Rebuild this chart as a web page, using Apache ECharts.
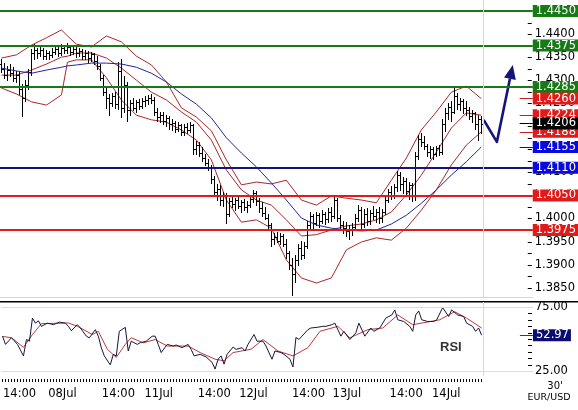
<!DOCTYPE html>
<html><head><meta charset="utf-8">
<script src="https://cdn.jsdelivr.net/npm/echarts@6/dist/echarts.min.js"></script>
<style>html,body{margin:0;padding:0;background:#fff}#c{width:578px;height:410px}</style>
</head><body><div id="c"></div>
<script>
// ---- OHLC bars (30 minute, EUR/USD) ----
const opens=[1.4335,1.4325,1.4312,1.4322,1.4316,1.4305,1.4312,1.4280,1.4262,1.4290,
1.4318,1.4360,1.4365,1.4358,1.4366,1.4352,1.4360,1.4355,1.4362,1.4368,
1.4360,1.4370,1.4365,1.4372,1.4362,1.4368,1.4358,1.4364,1.4352,1.4360,
1.4348,1.4356,1.4342,1.4330,1.4305,1.4275,1.4262,1.4250,1.4265,1.4248,
1.4320,1.4240,1.4290,1.4235,1.4250,1.4240,1.4252,1.4245,1.4255,1.4258,
1.4262,1.4258,1.4232,1.4220,1.4225,1.4212,1.4218,1.4205,1.4208,1.4195,
1.4202,1.4188,1.4198,1.4192,1.4202,1.4150,1.4160,1.4142,1.4132,1.4120,
1.4110,1.4085,1.4058,1.4065,1.4040,1.4050,1.4010,1.4038,1.4032,1.4040,
1.4028,1.4035,1.4025,1.4030,1.4042,1.4055,1.4038,1.4022,1.4012,1.4002,
1.3985,1.3955,1.3960,1.3952,1.3962,1.3945,1.3925,1.3900,1.3880,1.3910,
1.3935,1.3920,1.3940,1.3985,1.4005,1.3990,1.4008,1.3995,1.4010,1.3998,
1.4015,1.4005,1.4040,1.4002,1.3985,1.3980,1.3972,1.3978,1.3982,1.4002,
1.4018,1.3988,1.4010,1.3995,1.4012,1.4005,1.4015,1.4000,1.4015,1.4040,
1.4058,1.4050,1.4068,1.4095,1.4075,1.4082,1.4060,1.4072,1.4048,1.4135,
1.4172,1.4165,1.4158,1.4145,1.4150,1.4140,1.4152,1.4145,1.4205,1.4228,
1.4242,1.4232,1.4265,1.4248,1.4255,1.4240,1.4235,1.4222,1.4228,1.4205,
1.4215];
const highs=[1.4345,1.4338,1.4330,1.4335,1.4328,1.4320,1.4318,1.4292,1.4300,1.4325,
1.4368,1.4378,1.4370,1.4372,1.4370,1.4366,1.4364,1.4370,1.4376,1.4372,
1.4378,1.4376,1.4380,1.4375,1.4374,1.4372,1.4370,1.4368,1.4366,1.4364,
1.4362,1.4360,1.4352,1.4335,1.4312,1.4285,1.4270,1.4272,1.4275,1.4340,
1.4345,1.4310,1.4295,1.4258,1.4262,1.4258,1.4260,1.4262,1.4266,1.4268,
1.4270,1.4264,1.4240,1.4232,1.4230,1.4225,1.4222,1.4215,1.4212,1.4210,
1.4206,1.4205,1.4208,1.4210,1.4206,1.4168,1.4165,1.4155,1.4140,1.4130,
1.4115,1.4092,1.4075,1.4072,1.4058,1.4055,1.4045,1.4050,1.4045,1.4048,
1.4040,1.4042,1.4038,1.4048,1.4062,1.4060,1.4045,1.4035,1.4025,1.4010,
1.3990,1.3968,1.3970,1.3968,1.3966,1.3955,1.3930,1.3915,1.3920,1.3945,
1.3952,1.3948,1.3995,1.4015,1.4010,1.4015,1.4012,1.4018,1.4015,1.4022,
1.4025,1.4052,1.4045,1.4008,1.3995,1.3992,1.3985,1.3990,1.4010,1.4030,
1.4025,1.4020,1.4022,1.4018,1.4028,1.4020,1.4025,1.4020,1.4048,1.4065,
1.4070,1.4075,1.4102,1.4100,1.4090,1.4088,1.4080,1.4078,1.4145,1.4182,
1.4185,1.4178,1.4162,1.4158,1.4155,1.4158,1.4160,1.4215,1.4240,1.4250,
1.4255,1.4288,1.4272,1.4262,1.4260,1.4255,1.4242,1.4235,1.4232,1.4225,
1.4222];
const lows=[1.4318,1.4305,1.4300,1.4310,1.4298,1.4295,1.4270,1.4222,1.4255,1.4280,
1.4312,1.4345,1.4348,1.4352,1.4345,1.4346,1.4345,1.4350,1.4356,1.4352,
1.4355,1.4358,1.4360,1.4355,1.4356,1.4350,1.4352,1.4345,1.4346,1.4340,
1.4342,1.4335,1.4325,1.4300,1.4268,1.4240,1.4225,1.4245,1.4240,1.4238,
1.4220,1.4230,1.4212,1.4225,1.4235,1.4232,1.4238,1.4240,1.4245,1.4248,
1.4250,1.4225,1.4212,1.4210,1.4205,1.4200,1.4195,1.4192,1.4188,1.4190,
1.4180,1.4182,1.4185,1.4188,1.4140,1.4140,1.4135,1.4125,1.4115,1.4105,
1.4078,1.4048,1.4040,1.4030,1.4028,1.3990,1.4005,1.4025,1.4018,1.4022,
1.4015,1.4018,1.4015,1.4025,1.4035,1.4030,1.4015,1.4005,1.3998,1.3975,
1.3940,1.3945,1.3948,1.3945,1.3940,1.3915,1.3890,1.3835,1.3862,1.3900,
1.3912,1.3915,1.3935,1.3975,1.3980,1.3985,1.3982,1.3990,1.3988,1.3992,
1.3995,1.4000,1.3995,1.3975,1.3968,1.3962,1.3955,1.3965,1.3975,1.3995,
1.3975,1.3982,1.3985,1.3988,1.3998,1.3992,1.3990,1.3992,1.4010,1.4035,
1.4042,1.4045,1.4060,1.4062,1.4055,1.4050,1.4042,1.4038,1.4040,1.4128,
1.4158,1.4150,1.4135,1.4132,1.4130,1.4135,1.4138,1.4140,1.4190,1.4215,
1.4212,1.4228,1.4238,1.4235,1.4228,1.4225,1.4215,1.4210,1.4195,1.4170,
1.4185];
const closes=[1.4325,1.4312,1.4322,1.4316,1.4305,1.4312,1.4280,1.4262,1.4290,1.4318,
1.4360,1.4365,1.4358,1.4366,1.4352,1.4360,1.4355,1.4362,1.4368,1.4360,
1.4370,1.4365,1.4372,1.4362,1.4368,1.4358,1.4364,1.4352,1.4360,1.4348,
1.4356,1.4342,1.4330,1.4305,1.4275,1.4262,1.4250,1.4265,1.4248,1.4320,
1.4240,1.4290,1.4235,1.4250,1.4240,1.4252,1.4245,1.4255,1.4258,1.4262,
1.4258,1.4232,1.4220,1.4225,1.4212,1.4218,1.4205,1.4208,1.4195,1.4202,
1.4188,1.4198,1.4192,1.4202,1.4150,1.4160,1.4142,1.4132,1.4120,1.4110,
1.4085,1.4058,1.4065,1.4040,1.4050,1.4010,1.4038,1.4032,1.4040,1.4028,
1.4035,1.4025,1.4030,1.4042,1.4055,1.4038,1.4022,1.4012,1.4002,1.3985,
1.3955,1.3960,1.3952,1.3962,1.3945,1.3925,1.3900,1.3880,1.3910,1.3935,
1.3920,1.3940,1.3985,1.4005,1.3990,1.4008,1.3995,1.4010,1.3998,1.4015,
1.4005,1.4040,1.4002,1.3985,1.3980,1.3972,1.3978,1.3982,1.4002,1.4018,
1.3988,1.4010,1.3995,1.4012,1.4005,1.4015,1.4000,1.4015,1.4040,1.4058,
1.4050,1.4068,1.4095,1.4075,1.4082,1.4060,1.4072,1.4048,1.4135,1.4172,
1.4165,1.4158,1.4145,1.4150,1.4140,1.4152,1.4145,1.4205,1.4228,1.4242,
1.4232,1.4265,1.4248,1.4255,1.4240,1.4235,1.4222,1.4228,1.4205,1.4215,
1.4206];

// ---- indicator lines, read at these bar positions ----
const bandIdx=[0,5,10,15,20,22,25,30,35,40,45,50,55,60,65,70,75,80,85,90,95,100,105,110,115,120,125,130,135,140,145,150,155,160];
const bbUpper=[1.4348,1.4355,1.4376,1.4392,1.4409,1.4396,1.4378,1.4372,1.4396,1.4383,1.4352,1.4333,1.4296,1.4240,1.4220,1.4190,1.4127,1.4073,1.4079,1.4075,1.4083,1.4040,1.4029,1.4049,1.4044,1.4040,1.4034,1.4083,1.4131,1.4192,1.4231,1.4274,1.4287,1.4260];
const bbMiddle=[1.4311,1.4311,1.4322,1.4335,1.4350,1.4352,1.4359,1.4359,1.4348,1.4326,1.4300,1.4274,1.4257,1.4231,1.4209,1.4170,1.4105,1.4062,1.4040,1.4029,1.3997,1.3962,1.3965,1.3975,1.3984,1.3988,1.3997,1.4014,1.4051,1.4094,1.4144,1.4196,1.4229,1.4224];
const bbLower=[1.4283,1.4270,1.4253,1.4246,1.4268,1.4339,1.4344,1.4344,1.4305,1.4257,1.4224,1.4214,1.4209,1.4192,1.4170,1.4127,1.4040,1.3992,1.3997,1.3979,1.3910,1.3871,1.3860,1.3871,1.3932,1.3949,1.3958,1.3953,1.3979,1.4018,1.4062,1.4116,1.4159,1.4188];
const maBlue=[1.4326,1.4320,1.4315,1.4322,1.4328,1.4331,1.4333,1.4337,1.4337,1.4335,1.4328,1.4315,1.4296,1.4270,1.4248,1.4218,1.4175,1.4142,1.4112,1.4077,1.4040,1.4001,1.3986,1.3979,1.3975,1.3973,1.3975,1.3988,1.4007,1.4033,1.4062,1.4094,1.4123,1.4155];

// ---- RSI panel ----
const rsiIdx=[0,1,3,5,7,8,9,10,11,12,13,15,17,19,21,22,23,25,26,28,29,31,32,33,34,36,37,38,39,41,42,43,45,46,48,50,51,52,53,55,57,58,60,62,63,64,66,68,70,71,72,73,74,75,77,78,80,81,82,84,85,87,88,90,91,93,94,96,97,98,99,100,102,103,105,107,108,110,111,113,114,116,118,119,121,123,124,126,128,130,131,132,134,136,137,138,139,140,142,144,145,147,149,150,152,154,155,157,158,159,160];
const rsiVals=[52.2,45.8,51,45.8,36.8,49.6,48.3,66.3,62.4,64.2,59.9,62.4,61.2,63.2,62.4,59.9,56.5,61.2,58.6,52.2,50.9,57.3,52.2,43.2,36.8,29.8,38,36.8,56,59.1,40.6,48.3,45.8,47.1,48.3,52.2,52.2,45.8,39.4,45.8,44.5,45.3,43.2,45.8,41.9,36.8,38,36,31.7,26.5,34.2,36.8,30.4,38,43.7,41.9,43.2,40.6,45.8,53.5,48.3,48.3,44.5,34.2,40.6,39.4,38,34.2,28.1,51.2,49.6,52.2,57.3,58.6,59.1,59.9,59.9,61.2,62.4,52.2,56,49.6,54.8,62.4,52.2,58.6,56,58.6,66.3,68.8,72.7,65,63.7,59.9,56,68.8,71.9,65,63.7,63.7,65,74.5,67.6,72.7,68.8,67.6,62.4,59.9,56,58.6,52.97];
const sigIdx=[0,3,7,10,13,22,25,30,32,35,38,41,43,47,51,55,62,66,71,74,77,83,87,92,97,102,106,112,116,122,127,132,137,143,146,151,155,160];
const sigVals=[52,51,43.5,53.5,62,62.5,60,53.5,56,42,35.6,45.8,51,47,49.6,44.5,44.5,39.4,34.2,33,39.4,42,49.6,40.6,36.8,43.2,56,59.9,50.9,57.3,58.6,68.8,61.2,63.7,65,71.3,66.3,58.6];

// ---- levels & annotations ----
const greenLevels=[1.4450,1.4375,1.4285];
const blueLevels=[1.4110];
const redLevels=[1.4050,1.3975];
const bandNow=[1.4260,1.4224,1.4188]; // upper, middle, lower
const maNow=1.4155;
const lastPrice=1.4206;
const rsiNow=52.97;
const rsiGuides=[75,25];
const arrowPts=[[160.8,1.4214],[165.2,1.4166],[170.5,1.4333]];

// ---- axis ticks ----
const priceLabels=[1.3850,1.3900,1.3950,1.4000,1.4050,1.4100,1.4150,1.4200,1.4250,1.4300,1.4350,1.4400,1.4450];
const priceTickMarks=[1.3850,1.3875,1.3900,1.3925,1.3950,1.3975,1.4000,1.4025,1.4050,1.4075,1.4100,1.4125,1.4150,1.4175,1.4200,1.4225,1.4250,1.4275,1.4300,1.4325,1.4350,1.4375,1.4400,1.4425,1.4450];
const rsiLabels=[75,25];
const rsiTickMarks=[25,30,35,40,45,50,55,60,65,70,75];
const timeTickIdx=[5.7,20,38.7,52.2,70.7,83.8,102.2,115,134.8,148.2];
const timeTickLabels=['14:00','08Jul','14:00','11Jul','14:00','12Jul','14:00','13Jul','14:00','14Jul'];

const FONT='DejaVu Sans';
const GREEN='#177a17', RED='#e01b1b', NAVY='#14147a', BLUE='#0a0ae0';
const barTicks=closes.map((c,i)=>i);
const X_MIN=-0.5, X_MAX=177.1667;

function pairs(xs,ys){return xs.map((x,k)=>[x,ys[k]]);}

function boxLabel(bg,txt){
  return {show:true,position:'end',distance:0,formatter:()=>txt,
    backgroundColor:bg,color:'#fff',fontFamily:FONT,fontSize:11.5,lineHeight:11,padding:[1,2,0,3]};
}
function fullLevel(v,color,bg){
  return {yAxis:v,lineStyle:{color:color,width:2,type:'solid'},label:boxLabel(bg,v.toFixed(4))};
}
function pointer(v,color,bg,txt){
  const lab=boxLabel(bg,txt||v.toFixed(4));
  const s={coord:[172.8,v],lineStyle:{color:color,width:1,type:'solid'},label:lab};
  const e={coord:[X_MAX,v],lineStyle:{color:color,width:1,type:'solid'},label:lab};
  return [s,e];
}

function renderOHLC(params,api){
  const i=api.value(0),o=api.value(1),h=api.value(2),l=api.value(3),c=api.value(4);
  const ph=api.coord([i,h]),pl=api.coord([i,l]),po=api.coord([i,o]),pc=api.coord([i,c]);
  const x=Math.round(ph[0]-0.5)+0.5;
  const yo=Math.round(po[1])+0.5, yc=Math.round(pc[1])+0.5;
  const st={stroke:'#000',lineWidth:1};
  return {type:'group',children:[
    {type:'line',shape:{x1:x,y1:Math.round(ph[1]),x2:x,y2:Math.round(pl[1])+1},style:st},
    {type:'line',shape:{x1:x-2,y1:yo,x2:x,y2:yo},style:st},
    {type:'line',shape:{x1:x,y1:yc,x2:x+2,y2:yc},style:st}
  ]};
}
// small dash tick at the right edge of a panel, placed through the axis scale
function renderTick(params,api){
  const p=api.coord([api.value(0),api.value(1)]);
  const y=Math.round(p[1])+0.5;
  return {type:'line',shape:{x1:p[0]-5,y1:y,x2:p[0]-1,y2:y},style:{stroke:'#000',lineWidth:1}};
}
function renderArrow(params,api){
  const pts=arrowPts.map(p=>api.coord(p));
  const n=pts.length,a=pts[n-2],b=pts[n-1];
  const dx=b[0]-a[0],dy=b[1]-a[1],len=Math.hypot(dx,dy),ux=dx/len,uy=dy/len;
  const hl=14,hw=6;
  const base=[b[0]-ux*hl,b[1]-uy*hl];
  return {type:'group',children:[
    {type:'polyline',shape:{points:pts.slice(0,n-1).concat([base])},style:{stroke:NAVY,lineWidth:2.6,fill:null,lineJoin:'round'}},
    {type:'polygon',shape:{points:[b,[base[0]-uy*hw,base[1]+ux*hw],[base[0]+uy*hw,base[1]-ux*hw]]},style:{fill:NAVY}}
  ]};
}

const levelData=[]
  .concat(greenLevels.map(v=>fullLevel(v,GREEN,GREEN)))
  .concat(blueLevels.map(v=>fullLevel(v,NAVY,BLUE)))
  .concat(redLevels.map(v=>fullLevel(v,RED,RED)))
  .concat([{xAxis:160.5,lineStyle:{color:'#d8d8d8',width:1,type:'solid'},label:{show:false}}])
  .concat([pointer(bandNow[0],'#c02020',RED),pointer(bandNow[1],'#c02020',RED),pointer(bandNow[2],'#c02020',RED),
           pointer(maNow,NAVY,BLUE),pointer(lastPrice,'#000','#000')]);

const chart=echarts.init(document.getElementById('c'),null,{renderer:'canvas'});
chart.setOption({
  animation:false,
  backgroundColor:'#fff',
  grid:[
    {left:0,right:45,top:0,height:297},
    {left:0,right:45,top:302,height:74}
  ],
  xAxis:[
    {gridIndex:0,type:'value',min:X_MIN,max:X_MAX,axisLine:{show:true,lineStyle:{color:'#d4d4d4'}},axisTick:{show:false},axisLabel:{show:false},splitLine:{show:false}},
    {gridIndex:1,type:'value',min:X_MIN,max:X_MAX,position:'bottom',offset:3,
     axisLine:{show:false},
     axisTick:{show:true,length:3,customValues:barTicks,lineStyle:{color:'#000'}},
     axisLabel:{show:true,customValues:timeTickIdx,margin:9,color:'#000',fontFamily:FONT,fontSize:11.5,
       formatter:v=>{const k=timeTickIdx.findIndex(t=>Math.abs(t-v)<1e-6);return k>=0?timeTickLabels[k]:'';}},
     splitLine:{show:false}}
  ],
  yAxis:[
    {gridIndex:0,type:'value',position:'right',min:1.38297,max:1.44739,
     axisLine:{show:false},splitLine:{show:false},axisTick:{show:false},
     axisLabel:{customValues:priceLabels,formatter:v=>v.toFixed(4),margin:2,color:'#000',fontFamily:FONT,fontSize:11.5}},
    {gridIndex:1,type:'value',position:'right',min:21.09,max:78.91,
     axisLine:{show:false},splitLine:{show:false},axisTick:{show:false},
     axisLabel:{customValues:rsiLabels,formatter:v=>v.toFixed(2),margin:2,color:'#000',fontFamily:FONT,fontSize:11.5}}
  ],
  series:[
    {name:'BB upper',type:'line',xAxisIndex:0,yAxisIndex:0,data:pairs(bandIdx,bbUpper),showSymbol:false,lineStyle:{color:'#a82828',width:1},z:1},
    {name:'BB middle',type:'line',xAxisIndex:0,yAxisIndex:0,data:pairs(bandIdx,bbMiddle),showSymbol:false,lineStyle:{color:'#a82828',width:1},z:1},
    {name:'BB lower',type:'line',xAxisIndex:0,yAxisIndex:0,data:pairs(bandIdx,bbLower),showSymbol:false,lineStyle:{color:'#a82828',width:1},z:1},
    {name:'OHLC',type:'custom',xAxisIndex:0,yAxisIndex:0,renderItem:renderOHLC,
     data:closes.map((c,i)=>[i,opens[i],highs[i],lows[i],c]),encode:{x:0,y:[1,2,3,4]},z:2},
    {name:'price ticks',type:'custom',xAxisIndex:0,yAxisIndex:0,renderItem:renderTick,
     data:priceTickMarks.map(v=>[X_MAX,v]),encode:{x:0,y:1},z:1,silent:true},
    {name:'MA',type:'line',xAxisIndex:0,yAxisIndex:0,data:pairs(bandIdx,maBlue),showSymbol:false,lineStyle:{color:'#2424a0',width:1},z:3,
     markLine:{silent:true,precision:4,symbol:['none','none'],animation:false,emphasis:{disabled:true},data:levelData}},
    {name:'arrow',type:'custom',xAxisIndex:0,yAxisIndex:0,renderItem:renderArrow,data:[arrowPts[0]],z:4},
    {name:'rsi ticks',type:'custom',xAxisIndex:1,yAxisIndex:1,renderItem:renderTick,
     data:rsiTickMarks.map(v=>[X_MAX,v]),encode:{x:0,y:1},z:1,silent:true},
    {name:'RSI signal',type:'line',xAxisIndex:1,yAxisIndex:1,data:pairs(sigIdx,sigVals),showSymbol:false,lineStyle:{color:'#c03838',width:1},z:2,
     markLine:{silent:true,precision:2,symbol:['none','none'],emphasis:{disabled:true},data:
       rsiGuides.map(v=>({yAxis:v,lineStyle:{color:'#dcdcdc',width:1,type:'solid'},label:{show:false}}))
       .concat([{xAxis:160.5,lineStyle:{color:'#d8d8d8',width:1,type:'solid'},label:{show:false}}])}},
    {name:'RSI',type:'line',xAxisIndex:1,yAxisIndex:1,data:pairs(rsiIdx,rsiVals),showSymbol:false,lineStyle:{color:'#16163c',width:1},z:3,
     markLine:{silent:true,precision:2,symbol:['none','none'],emphasis:{disabled:true},
       data:[pointer(rsiNow,'#7a1a3a','#0c0c6e',rsiNow.toFixed(2))]}}
  ],
  graphic:[
    {type:'rect',left:0,top:301,shape:{width:578,height:1.5},style:{fill:'#000'},silent:true},
    {type:'text',left:440,top:341,style:{text:'RSI',font:'bold 13px "Liberation Sans", Arial',fill:'#333'}},
    {type:'text',x:555,y:381,style:{text:"30'",font:'10px "DejaVu Sans"',fill:'#000',align:'center'}},
    {type:'text',x:549,y:393,style:{text:'EUR/USD',font:'9.5px "DejaVu Sans"',fill:'#000',align:'center'}}
  ]
});
</script></body></html>
